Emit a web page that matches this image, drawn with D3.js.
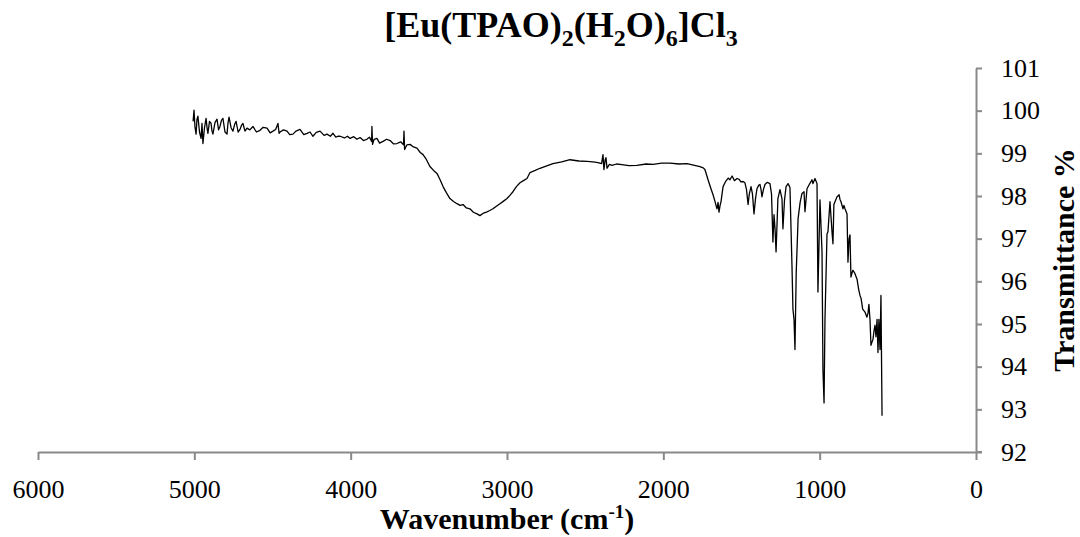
<!DOCTYPE html>
<html>
<head>
<meta charset="utf-8">
<title>IR spectrum</title>
<script src="https://d3js.org/d3.v7.min.js"></script>
<style>
  body { margin: 0; background: #fff; overflow: hidden; }
  svg text { font-family: "Liberation Serif", "Times New Roman", serif; }
</style>
</head>
<body>
<svg id="chart"></svg>
<script>
// spectrum (cm-1, %T)
const wavenumber = [5008,5002,4996,4989,4983,4977,4967,4957,4951,4945,4935,4925,4918,4913,4903,4893,4887,4881,4868,4855,4845,4836,4826,4817,4804,4791,4785,4778,4765,4753,4742,4733,4720,4708,4698,4689,4676,4663,4645,4625,4603,4580,4560,4535,4515,4497,4480,4465,4458,4452,4430,4407,4390,4369,4350,4324,4300,4279,4260,4241,4220,4196,4170,4151,4130,4113,4095,4081,4068,4040,4020,4004,3980,3960,3940,3918,3896,3880,3866,3864,3860,3850,3832,3815,3793,3770,3748,3725,3704,3680,3662,3659,3655,3640,3620,3598,3576,3555,3537,3515,3493,3470,3448,3428,3409,3388,3365,3342,3320,3300,3281,3260,3237,3215,3192,3173,3150,3128,3110,3090,3068,3045,3022,3000,2980,2962,2940,2917,2895,2872,2853,2820,2789,2750,2706,2650,2597,2540,2488,2450,2418,2395,2386,2380,2372,2367,2360,2345,2328,2300,2277,2220,2169,2110,2066,2010,1957,1900,1849,1800,1766,1745,1734,1714,1698,1682,1668,1657,1650,1644,1637,1631,1618,1600,1585,1574,1560,1545,1529,1515,1504,1490,1478,1468,1458,1450,1439,1430,1420,1410,1401,1390,1382,1375,1369,1360,1350,1335,1318,1308,1299,1292,1285,1279,1267,1254,1248,1241,1235,1225,1215,1202,1190,1177,1171,1164,1158,1150,1138,1125,1113,1100,1094,1081,1065,1049,1043,1030,1017,1011,998,985,979,972,966,953,947,934,921,915,909,889,876,870,864,851,845,838,825,819,812,806,800,793,787,774,761,750,742,735,725,710,698,691,685,678,672,665,659,652,646,640,633,627,621,614,608,601];
const transmittance = [99.75,100.01,99.62,99.45,99.80,99.87,99.50,99.35,99.70,99.23,99.60,99.82,99.58,99.47,99.75,99.70,99.52,99.45,99.72,99.80,99.55,99.63,99.78,99.82,99.50,99.45,99.70,99.85,99.60,99.52,99.68,99.75,99.50,99.56,99.66,99.70,99.52,99.59,99.55,99.63,99.50,99.54,99.61,99.59,99.48,99.52,99.56,99.70,99.47,99.50,99.55,99.52,99.44,99.45,99.52,99.56,99.44,99.47,99.50,99.40,99.49,99.52,99.42,99.45,99.40,99.47,99.38,99.40,99.40,99.36,99.40,99.35,99.39,99.33,99.37,99.30,99.33,99.38,99.28,99.63,99.21,99.33,99.35,99.24,99.28,99.33,99.30,99.22,99.23,99.27,99.20,99.52,99.09,99.20,99.21,99.15,99.12,99.02,98.97,98.85,98.69,98.60,98.53,98.38,98.22,98.08,97.94,97.87,97.82,97.78,97.80,97.72,97.70,97.62,97.58,97.54,97.60,97.63,97.66,97.70,97.76,97.82,97.88,97.94,98.02,98.10,98.22,98.31,98.36,98.41,98.55,98.60,98.65,98.70,98.76,98.80,98.85,98.82,98.81,98.80,98.78,98.76,98.97,98.62,98.85,98.90,98.65,98.74,98.72,98.75,98.74,98.71,98.72,98.75,98.74,98.77,98.77,98.75,98.76,98.72,98.69,98.66,98.62,98.38,98.20,98.03,97.85,97.70,97.85,97.62,97.78,97.87,98.22,98.35,98.42,98.38,98.47,98.36,98.41,98.39,98.33,98.34,98.31,98.15,97.80,98.05,98.22,98.05,97.58,97.95,98.17,98.25,98.27,98.15,97.98,98.15,98.27,98.32,98.29,98.05,96.92,97.56,97.20,96.69,97.94,98.15,98.05,97.94,97.23,97.90,98.22,98.29,98.20,96.35,95.35,95.10,94.40,96.20,97.47,97.85,98.06,98.10,97.63,98.17,98.28,98.38,98.29,98.41,98.29,95.75,97.91,96.69,93.93,93.15,95.11,97.11,97.16,97.87,97.16,96.88,97.80,97.98,98.03,97.92,97.87,97.70,97.78,97.70,97.58,96.45,97.00,97.09,96.10,96.20,96.26,96.18,96.05,95.80,95.67,95.60,95.35,95.28,95.16,95.25,95.46,95.10,94.50,94.58,94.64,94.85,94.97,94.70,95.11,94.33,95.11,94.40,95.67,92.85];

const xTicks = [6000, 5000, 4000, 3000, 2000, 1000, 0];
const yTicks = [92, 93, 94, 95, 96, 97, 98, 99, 100, 101];

const width = 1080, height = 537;
const plotLeft = 38, plotRight = 976, plotTop = 68, plotBottom = 452;
const axisColor = "#898989";
const serif = '"Liberation Serif", "Times New Roman", serif';

const svg = d3.select("#chart").attr("width", width).attr("height", height);

const x = d3.scaleLinear().domain([6000, 0]).range([plotLeft, plotRight]);
const y = d3.scaleLinear().domain([92, 101]).range([plotBottom, plotTop]);

// x axis
const gx = svg.append("g")
    .attr("transform", `translate(0,${plotBottom})`)
    .call(d3.axisBottom(x).tickValues(xTicks).tickSize(8).tickPadding(20).tickSizeOuter(0).tickFormat(d3.format("d")));
gx.selectAll(".tick text").attr("dy", 0).attr("y", 46);

// y axis on the right
const gy = svg.append("g")
    .attr("transform", `translate(${plotRight},0)`)
    .call(d3.axisRight(y).tickValues(yTicks).tickSize(6).tickPadding(19).tickSizeOuter(0));

[gx, gy].forEach(g => {
    g.attr("font-family", serif).attr("font-size", 26);
    g.select(".domain").attr("stroke", axisColor).attr("stroke-width", 2);
    g.selectAll(".tick line").attr("stroke", axisColor).attr("stroke-width", 2);
    g.selectAll(".tick text").attr("fill", "#000");
});
// x axis line runs a little past the y axis
svg.append("line")
    .attr("x1", plotRight).attr("x2", plotRight + 6)
    .attr("y1", plotBottom).attr("y2", plotBottom)
    .attr("stroke", axisColor).attr("stroke-width", 2);

// spectrum
const pts = wavenumber.map((w, i) => [w, transmittance[i]]);
svg.append("path")
    .datum(pts)
    .attr("fill", "none")
    .attr("stroke", "#000")
    .attr("stroke-width", 1.3)
    .attr("stroke-linejoin", "round")
    .attr("d", d3.line().x(d => x(d[0])).y(d => y(d[1])));

// title with subscripts
const title = svg.append("text")
    .attr("x", 561).attr("y", 37)
    .attr("text-anchor", "middle")
    .style("font-size", "36px").style("font-weight", "bold");
const parts = [["[Eu(TPAO)", 0], ["2", 1], ["(H", 0], ["2", 1], ["O)", 0], ["6", 1], ["]Cl", 0], ["3", 1]];
let low = false;
parts.forEach(([t, sub]) => {
    const ts = title.append("tspan").text(t);
    if (sub && !low) { ts.attr("dy", 9).style("font-size", "24px"); low = true; }
    else if (sub) { ts.style("font-size", "24px"); }
    else if (low) { ts.attr("dy", -9); low = false; }
});

// x axis title
const xt = svg.append("text")
    .attr("x", (plotLeft + plotRight) / 2).attr("y", 529)
    .attr("text-anchor", "middle")
    .style("font-size", "30px").style("font-weight", "bold");
xt.append("tspan").text("Wavenumber (cm");
xt.append("tspan").text("-1").attr("dy", -11).style("font-size", "19px");
xt.append("tspan").text(")").attr("dy", 11);

// y axis title
svg.append("text")
    .attr("transform", `translate(1074,${(plotTop + plotBottom) / 2}) rotate(-90)`)
    .attr("text-anchor", "middle")
    .style("font-size", "30px").style("font-weight", "bold")
    .text("Transmittance %");
</script>
</body>
</html>
